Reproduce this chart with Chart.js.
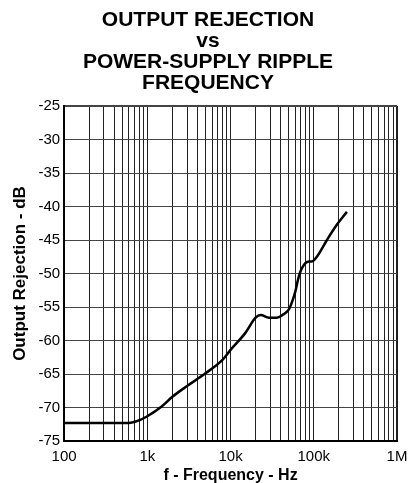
<!DOCTYPE html>
<html>
<head>
<meta charset="utf-8">
<script src="https://cdn.jsdelivr.net/npm/chart.js@4"></script>
<style>
  html, body { margin: 0; padding: 0; background: #fff; }
  #wrap { width: 410px; height: 483px; position: relative; }
</style>
</head>
<body>
<div id="wrap"><canvas id="rejChart" width="410" height="483"></canvas></div>
<script>
// values
const freqHz = [100, 600, 800, 1000, 1500, 2000, 3000, 5000, 8000, 10000, 15000, 20000, 23000,
  29000, 36000, 43000, 50000, 55000, 60000, 65000, 72000, 87000, 95000, 109000, 144000, 190000, 250000];
const rejectionDb = [-72.3, -72.3, -71.9, -71.3, -69.8, -68.4, -66.8, -64.9, -62.9, -61.4, -58.9, -56.6, -56.2,
  -56.6, -56.6, -56.1, -55.4, -54.2, -52.7, -50.8, -49.2, -48.2, -48.2, -47.5, -45.0, -42.7, -40.8];

const xDecades = [100, 1000, 10000, 100000, 1000000];
const xDecadeLabels = ['100', '1k', '10k', '100k', '1M'];

const titleLines = ['OUTPUT REJECTION', 'vs', 'POWER-SUPPLY RIPPLE', 'FREQUENCY'];

const points = freqHz.map((f, i) => ({ x: f, y: rejectionDb[i] }));

// all 1..9 gridlines per decade
function logGridTicks() {
  const ticks = [];
  for (let d = 0; d < xDecades.length - 1; d++) {
    for (let m = 1; m <= 9; m++) ticks.push({ value: xDecades[d] * m });
  }
  ticks.push({ value: xDecades[xDecades.length - 1] });
  return ticks;
}

new Chart(document.getElementById('rejChart').getContext('2d'), {
  type: 'line',
  data: {
    datasets: [{
      data: points,
      borderColor: '#000',
      borderWidth: 2.5,
      pointRadius: 0,
      cubicInterpolationMode: 'monotone',
      fill: false
    }]
  },
  options: {
    responsive: false,
    animation: false,
    layout: { padding: { left: 6, right: 0, top: 0, bottom: 0 } },
    plugins: {
      legend: { display: false },
      tooltip: { enabled: false },
      title: {
        display: true,
        text: titleLines,
        color: '#000',
        font: { family: 'Liberation Sans, Arial, sans-serif', size: 21, weight: 'bold', lineHeight: 1.0 },
        padding: { top: 10, bottom: 12 }
      }
    },
    scales: {
      x: {
        type: 'logarithmic',
        min: 100,
        max: 1000000,
        afterBuildTicks: (scale) => { scale.ticks = logGridTicks(); },
        afterFit: (scale) => { scale.paddingRight = 13; },
        ticks: {
          autoSkip: false,
          maxRotation: 0,
          padding: 6.5,
          color: '#000',
          font: { family: 'Liberation Sans, Arial, sans-serif', size: 15 },
          callback: (v) => {
            const i = xDecades.indexOf(v);
            return i >= 0 ? xDecadeLabels[i] : '';
          }
        },
        grid: {
          drawTicks: false,
          color: '#222',
          lineWidth: (ctx) => (ctx.tick && ctx.tick.value === 1000000 ? 2 : 1)
        },
        border: { display: true, color: '#000', width: 2 },
        title: {
          display: true,
          text: 'f - Frequency - Hz',
          color: '#000',
          font: { family: 'Liberation Sans, Arial, sans-serif', size: 16, weight: 'bold', lineHeight: 1.0 },
          padding: { top: -4, bottom: -1 }
        }
      },
      y: {
        min: -75,
        max: -25,
        ticks: {
          stepSize: 5,
          padding: 4,
          color: '#000',
          font: { family: 'Liberation Sans, Arial, sans-serif', size: 15 }
        },
        grid: {
          drawTicks: false,
          color: '#444',
          lineWidth: (ctx) => (ctx.tick && ctx.tick.value === -25 ? 2 : 1)
        },
        border: { display: true, color: '#000', width: 2 },
        title: {
          display: true,
          text: 'Output Rejection - dB',
          color: '#000',
          font: { family: 'Liberation Sans, Arial, sans-serif', size: 17, weight: 'bold', lineHeight: 1.2 },
          padding: { top: 4, bottom: 4 }
        }
      }
    }
  }
});
</script>
</body>
</html>
